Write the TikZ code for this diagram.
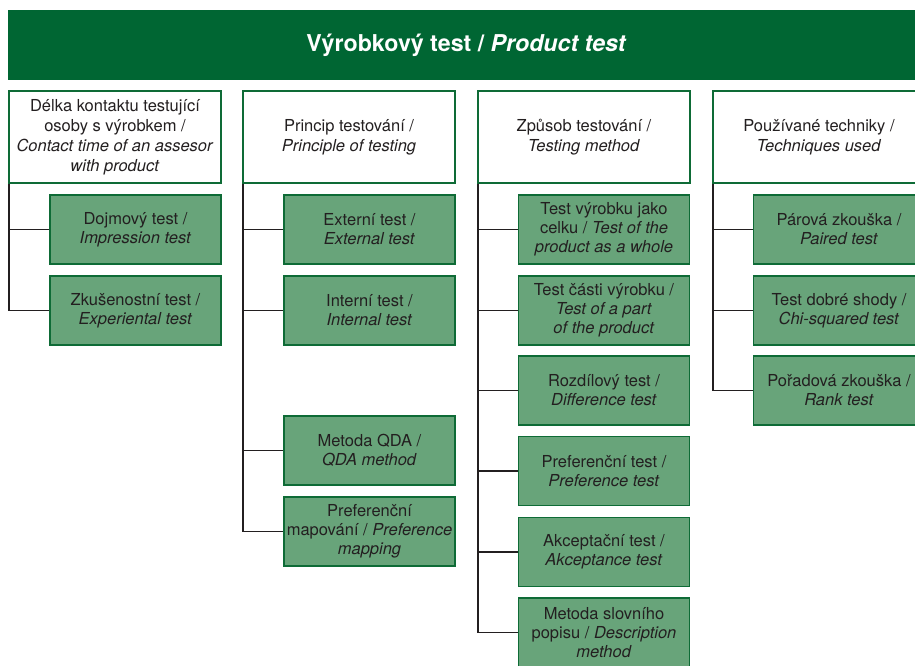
\documentclass[tikz,border=0pt]{standalone}
\usepackage{fontspec}
\setmainfont{TeX Gyre Heros}
\definecolor{darkgreen}{HTML}{006633}
\definecolor{leafgreen}{HTML}{68A47A}
\definecolor{edgegreen}{HTML}{0E6B36}
\definecolor{inkgray}{HTML}{231F20}
\tikzset{
  titlebar/.style={rectangle, fill=darkgreen, draw=none, minimum width=917pt, minimum height=70pt,
    text=white, font=\fontsize{23.2}{27}\selectfont\bfseries},
  headbox/.style={rectangle, draw=edgegreen, line width=1.3pt, fill=white, minimum width=212pt,
    minimum height=92pt, align=center, text=inkgray, font=\fontsize{16.5}{20}\selectfont},
  leafbox/.style={rectangle, draw=edgegreen, line width=1.5pt, fill=leafgreen, minimum width=171pt,
    minimum height=69pt, align=center, text=inkgray, font=\fontsize{16.5}{19}\selectfont, inner sep=1pt},
  link/.style={draw=inkgray, line width=1.6pt}
}
\begin{document}
\begin{tikzpicture}[x=1pt, y=-1pt]
    \useasboundingbox (0,0) rectangle (915,666);
    \clip (0,0) rectangle (915,666);

    % title bar
    \node[titlebar] (title) at (466.5,45) {Výrobkový test / \textit{Product test}};

    % column heads
    \node[headbox] (kontakt) at (115,137) {Délka kontaktu testující\\osoby s výrobkem /\\\textit{Contact time of an assesor}\\\textit{with product}};
    \node[headbox] (princip) at (349,137) {Princip testování /\\\textit{Principle of testing}};
    \node[headbox] (zpusob) at (584,137) {Způsob testování /\\\textit{Testing method}};
    \node[headbox] (techniky) at (819,137) {Používané techniky /\\\textit{Techniques used}};

    % first column
    \node[leafbox] (dojem) at (135.5,229.5) {Dojmový test /\\\textit{Impression test}};
    \node[leafbox] (zkusenost) at (135.5,310.5) {Zkušenostní test /\\\textit{Experiental test}};

    % second column
    \node[leafbox] (externi) at (369.5,229.5) {Externí test /\\\textit{External test}};
    \node[leafbox] (interni) at (369.5,310.5) {Interní test /\\\textit{Internal test}};
    \node[leafbox] (qda) at (369.5,450.5) {Metoda QDA /\\\textit{QDA method}};
    \node[leafbox] (mapovani) at (369.5,531.5) {Preferenční\\mapování / \textit{Preference}\\\textit{mapping}};

    % third column
    \node[leafbox] (celek) at (604,229.5) {Test výrobku jako\\celku / \textit{Test of the}\\\textit{product as a whole}};
    \node[leafbox] (cast) at (604,310.5) {Test části výrobku /\\\textit{Test of a part}\\\textit{of the product}};
    \node[leafbox] (rozdil) at (604,390.5) {Rozdílový test /\\\textit{Difference test}};
    \node[leafbox] (preference) at (604,471) {Preferenční test /\\\textit{Preference test}};
    \node[leafbox] (akceptace) at (604,552) {Akceptační test /\\\textit{Akceptance test}};
    \node[leafbox] (popis) at (604,632.5) {Metoda slovního\\popisu / \textit{Description}\\\textit{method}};

    % fourth column
    \node[leafbox] (parova) at (839,229.5) {Párová zkouška /\\\textit{Paired test}};
    \node[leafbox] (shoda) at (839,310.5) {Test dobré shody /\\\textit{Chi-squared test}};
    \node[leafbox] (poradi) at (839,390.5) {Pořadová zkouška /\\\textit{Rank test}};

    % connectors
    \foreach \leaf in {dojem, zkusenost}
        \draw[link] ([xshift=0.8pt]kontakt.south west) |- (\leaf.west);
    \foreach \leaf in {externi, interni, qda, mapovani}
        \draw[link] ([xshift=0.8pt]princip.south west) |- (\leaf.west);
    \foreach \leaf in {celek, cast, rozdil, preference, akceptace, popis}
        \draw[link] ([xshift=0.8pt]zpusob.south west) |- (\leaf.west);
    \foreach \leaf in {parova, shoda, poradi}
        \draw[link] ([xshift=0.8pt]techniky.south west) |- (\leaf.west);
\end{tikzpicture}
\end{document}
